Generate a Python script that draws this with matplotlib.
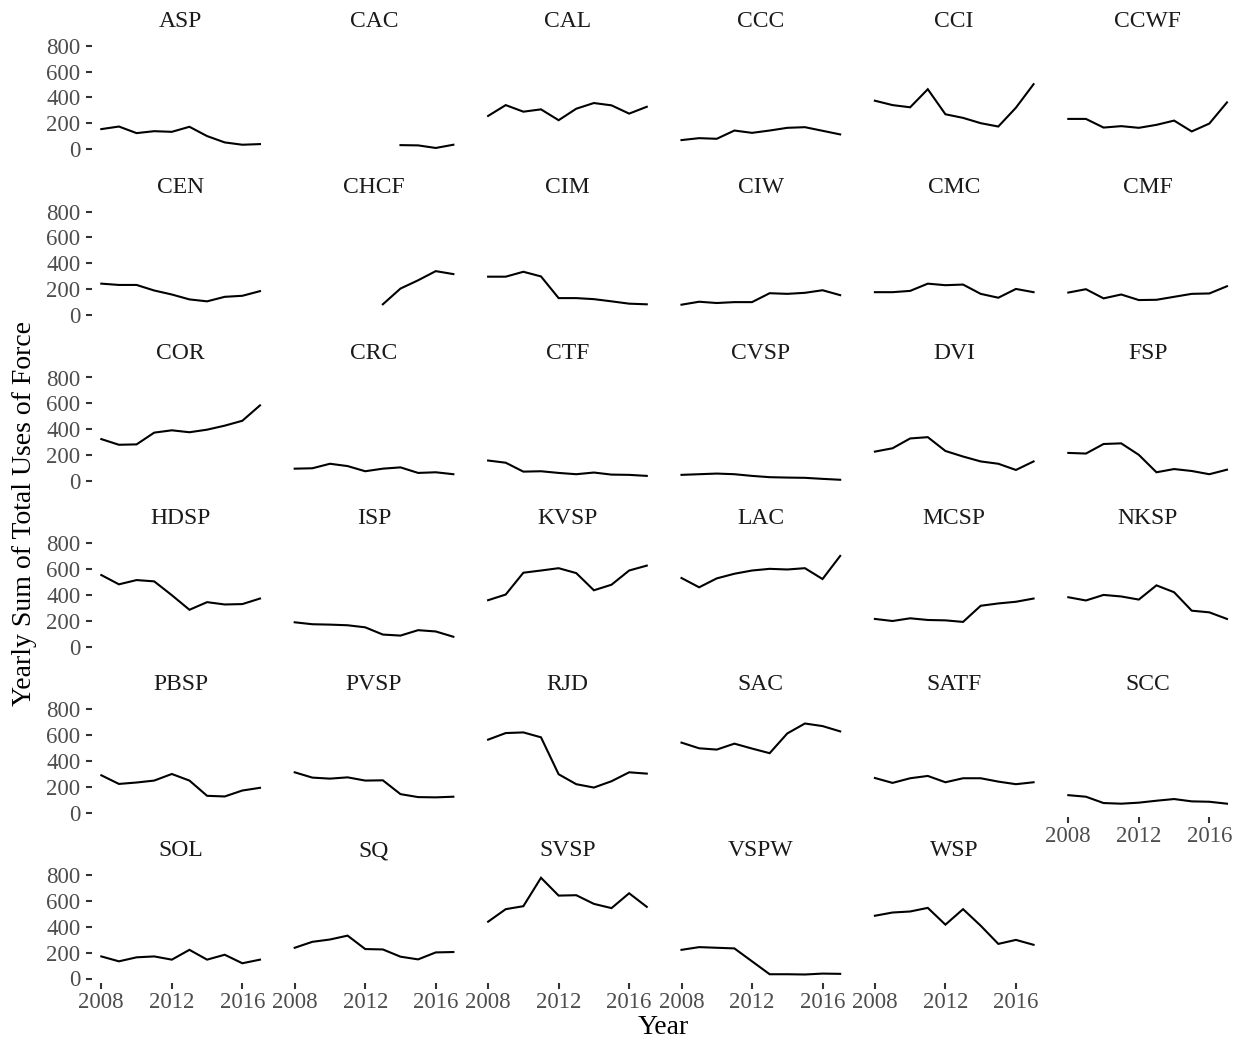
#!/usr/bin/env python3
"""
Small multiples of yearly use-of-force totals per facility (ggplot facet_wrap look-alike).
"""

import numpy as np
import matplotlib

matplotlib.use("Agg")
import matplotlib.pyplot as plt

YEARS = [2008, 2009, 2010, 2011, 2012, 2013, 2014, 2015, 2016, 2017]

ASP = [154, 174, 123, 138, 133, 172, 100, 51, 33, 38]
CAC = [None, None, None, None, None, None, 30, 28, 8, 33]
CAL = [256, 340, 289, 307, 223, 312, 356, 338, 274, 327]
CCC = [69, 84, 79, 143, 125, 143, 164, 169, 141, 113]
CCI = [374, 340, 323, 463, 269, 241, 200, 174, 320, 502]
CCWF = [233, 233, 166, 177, 164, 187, 220, 136, 197, 361]
CEN = [242, 232, 232, 189, 158, 120, 105, 140, 148, 184]
CHCF = [None, None, None, None, None, 82, 204, 268, 339, 316]
CIM = [296, 296, 334, 298, 130, 130, 122, 105, 87, 82]
CIW = [79, 102, 92, 99, 99, 168, 163, 171, 191, 153]
CMC = [176, 176, 186, 242, 230, 235, 163, 133, 201, 176]
CMF = [173, 199, 128, 158, 115, 117, 140, 163, 166, 222]
COR = [323, 279, 282, 373, 391, 376, 396, 427, 465, 584]
CRC = [94, 97, 132, 114, 74, 94, 104, 61, 66, 51]
CTF = [157, 140, 71, 74, 61, 51, 64, 48, 46, 38]
CVSP = [46, 51, 56, 51, 38, 28, 25, 23, 15, 8]
DVI = [226, 252, 328, 338, 231, 188, 150, 132, 84, 150]
FSP = [216, 211, 285, 290, 201, 66, 91, 76, 51, 86]
HDSP = [555, 483, 516, 506, 399, 286, 345, 327, 330, 373]
ISP = [189, 174, 171, 166, 150, 94, 86, 128, 118, 77]
KVSP = [360, 404, 573, 590, 608, 570, 437, 480, 590, 628]
LAC = [532, 460, 529, 565, 590, 603, 598, 608, 524, 703]
MCSP = [215, 199, 220, 207, 204, 192, 317, 335, 348, 373]
NKSP = [383, 358, 401, 389, 365, 475, 422, 279, 266, 215]
PBSP = [289, 222, 233, 248, 299, 248, 130, 125, 171, 192]
PVSP = [312, 271, 263, 273, 248, 250, 143, 120, 118, 123]
RJD = [565, 616, 621, 583, 297, 220, 194, 243, 312, 302]
SAC = [542, 498, 488, 534, 496, 460, 613, 690, 670, 629]
SATF = [268, 230, 266, 284, 235, 266, 266, 240, 220, 235]
SCC = [135, 123, 74, 69, 77, 92, 105, 87, 84, 69]
SOL = [171, 133, 164, 171, 146, 222, 146, 184, 118, 146]
SQ = [238, 284, 302, 332, 228, 225, 169, 148, 202, 205]
SVSP = [440, 537, 560, 780, 642, 645, 578, 545, 660, 555]
VSPW = [222, 243, 238, 233, 133, 33, 33, 31, 38, 36]
WSP = [486, 511, 519, 547, 417, 537, 409, 268, 299, 261]

FACILITIES = [
    "ASP", "CAC", "CAL", "CCC", "CCI", "CCWF",
    "CEN", "CHCF", "CIM", "CIW", "CMC", "CMF",
    "COR", "CRC", "CTF", "CVSP", "DVI", "FSP",
    "HDSP", "ISP", "KVSP", "LAC", "MCSP", "NKSP",
    "PBSP", "PVSP", "RJD", "SAC", "SATF", "SCC",
    "SOL", "SQ", "SVSP", "VSPW", "WSP",
]
SERIES = [
    ASP, CAC, CAL, CCC, CCI, CCWF,
    CEN, CHCF, CIM, CIW, CMC, CMF,
    COR, CRC, CTF, CVSP, DVI, FSP,
    HDSP, ISP, KVSP, LAC, MCSP, NKSP,
    PBSP, PVSP, RJD, SAC, SATF, SCC,
    SOL, SQ, SVSP, VSPW, WSP,
]

X_TICKS = [2008, 2012, 2016]
Y_TICKS = [0, 200, 400, 600, 800]

# figure geometry, in pixels of the 1238x1043 output
W, H = 1238, 1043
NCOL = 6
PX_PER_YEAR = 17.63
X0 = 101.3          # x pixel of 2008 in the first column
COL_STEP = 193.4
ZERO0 = 149.0       # y pixel of value 0 in the first row
ROW_STEP = 165.9
PX_PER_UNIT = 103.3 / 800
XLIM = (2007.5, 2017.5)
YLIM = (-31, 819)

SERIF = ["Liberation Serif", "DejaVu Serif"]
TICK_SIZE = 16.5
STRIP_SIZE = 17
TITLE_SIZE = 20


def panel_rect(row, col):
    left = X0 + COL_STEP * col - (2008 - XLIM[0]) * PX_PER_YEAR
    width = (XLIM[1] - XLIM[0]) * PX_PER_YEAR
    zero = ZERO0 + ROW_STEP * row
    top = zero - YLIM[1] * PX_PER_UNIT
    height = (YLIM[1] - YLIM[0]) * PX_PER_UNIT
    return [left / W, 1 - (top + height) / H, width / W, height / H]


def main():
    plt.rcParams["font.family"] = SERIF

    fig = plt.figure(figsize=(W / 100, H / 100), dpi=100)

    n = len(FACILITIES)
    for i, (name, values) in enumerate(zip(FACILITIES, SERIES)):
        row, col = divmod(i, NCOL)
        ax = fig.add_axes(panel_rect(row, col))

        vals = np.array([np.nan if v is None else v for v in values], dtype=float)
        ax.plot(YEARS, vals, color="black", linewidth=1.5, solid_joinstyle="miter")

        ax.set_xlim(*XLIM)
        ax.set_ylim(*YLIM)
        for spine in ax.spines.values():
            spine.set_visible(False)
        ax.patch.set_alpha(0)

        ax.text(0.5, 1.2, name, transform=ax.transAxes, ha="center", va="center",
                fontsize=STRIP_SIZE, color="#1a1a1a")

        # x labels only on the lowest panel of each column
        bottom = i + NCOL >= n
        if bottom:
            ax.set_xticks(X_TICKS)
            ax.set_xticklabels([str(t) for t in X_TICKS])
        else:
            ax.set_xticks([])
        if col == 0:
            ax.set_yticks(Y_TICKS)
            ax.set_yticklabels([str(t) for t in Y_TICKS])
        else:
            ax.set_yticks([])

        ax.tick_params(axis="both", direction="out", length=4.3, width=1.5,
                       color="#333333", labelsize=TICK_SIZE, labelcolor="#4d4d4d")
        ax.tick_params(axis="x", pad=2.5)
        ax.tick_params(axis="y", pad=4.5)

    fig.text(663 / W, 1 - 1028 / H, "Year", ha="center", va="center",
             fontsize=TITLE_SIZE, color="black")
    fig.text(25 / W, 1 - 513 / H, "Yearly Sum of Total Uses of Force", ha="center",
             va="center", rotation=90, fontsize=TITLE_SIZE, color="black")

    fig.savefig("out.png", dpi=100, facecolor="white")
    plt.close(fig)


if __name__ == "__main__":
    main()
